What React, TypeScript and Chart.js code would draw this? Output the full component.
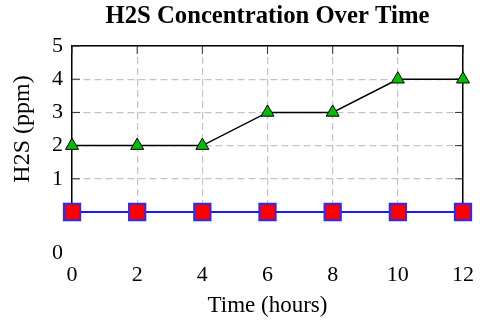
import React, { useEffect, useRef } from "react";
import { Chart, registerables } from "chart.js";

Chart.register(...registerables);

const hours = [0, 2, 4, 6, 8, 10, 12];
const h2sMain = [2, 2, 2, 3, 3, 4, 4];
const h2sBaseline = [0, 0, 0, 0, 0, 0, 0];
const yTicks = [0, 1, 2, 3, 4, 5];
const titleText = "H2S Concentration Over Time";
const xTitle = "Time (hours)";
const yTitle = "H2S (ppm)";

const FONT = '"Liberation Serif", "Times New Roman", serif';

const zeroLabelPlugin = {
  id: "zeroLabel",
  afterDraw(chart: any) {
    const ys = chart.scales.y;
    const ctx = chart.ctx;
    ctx.save();
    ctx.font = `22px ${FONT}`;
    ctx.fillStyle = "#000";
    ctx.textAlign = "right";
    ctx.textBaseline = "middle";
    ctx.fillText(String(yTicks[0]), ys.right - 9, ys.getPixelForValue(yTicks[0]) + 41);
    ctx.restore();
  },
};

const innerTicksPlugin = {
  id: "innerTicks",
  beforeDatasetsDraw(chart: any) {
    const { ctx, chartArea: a, scales } = chart;
    const len = 8;
    ctx.save();
    ctx.strokeStyle = "#333";
    ctx.lineWidth = 1;
    ctx.beginPath();
    for (const h of hours) {
      const x = scales.x.getPixelForValue(h);
      ctx.moveTo(x, a.top);
      ctx.lineTo(x, a.top + len);
      ctx.moveTo(x, a.bottom);
      ctx.lineTo(x, a.bottom - len);
    }
    for (const v of yTicks) {
      const y = scales.y.getPixelForValue(v);
      ctx.moveTo(a.left, y);
      ctx.lineTo(a.left + len, y);
      ctx.moveTo(a.right, y);
      ctx.lineTo(a.right - len, y);
    }
    ctx.stroke();
    ctx.restore();
  },
};

export default function App() {
  const ref = useRef<HTMLCanvasElement | null>(null);
  useEffect(() => {
    document.body.style.margin = "0";
    if (!ref.current) return;
    const chart = new Chart(ref.current, {
      type: "line",
      data: {
        datasets: [
          {
            label: "main",
            data: hours.map((h, i) => ({ x: h, y: h2sMain[i] })),
            borderColor: "#000",
            borderWidth: 1.5,
            pointStyle: "triangle",
            pointRadius: 7.5,
            pointBackgroundColor: "#00bf00",
            pointBorderColor: "#000",
            pointBorderWidth: 1,
            clip: false,
          } as any,
          {
            label: "baseline",
            data: hours.map((h, i) => ({ x: h, y: h2sBaseline[i] })),
            borderColor: "#1a1aff",
            borderWidth: 2,
            pointStyle: "rect",
            pointRadius: 11.5,
            pointBackgroundColor: "#ff0000",
            pointBorderColor: "#2a2aff",
            pointBorderWidth: 2,
            clip: false,
          } as any,
        ],
      },
      options: {
        responsive: false,
        animation: false,
        layout: { padding: { left: 8, right: 17, top: 0, bottom: 1.2 } },
        plugins: {
          legend: { display: false },
          tooltip: { enabled: false },
          title: {
            display: true,
            text: titleText,
            fullSize: false,
            color: "#000",
            font: { family: FONT, size: 24.7, weight: "bold" },
            padding: { top: 2, bottom: 14.4 },
          } as any,
        },
        scales: {
          x: {
            type: "linear",
            min: hours[0],
            max: hours[hours.length - 1],
            ticks: {
              stepSize: 2,
              color: "#000",
              font: { family: FONT, size: 22, lineHeight: "126px" },
              padding: 0,
              maxRotation: 0,
              autoSkip: false,
            },
            grid: { color: "#c4c4c4", lineWidth: 1.2, drawTicks: false },
            border: { display: true, color: "#000", width: 1.5, dash: [7, 4] },
            title: {
              display: true,
              text: xTitle,
              color: "#000",
              font: { family: FONT, size: 23 },
              padding: { top: -45.8, bottom: 0 },
            },
          },
          x2: {
            type: "linear",
            position: "top",
            display: true,
            min: hours[0],
            max: hours[hours.length - 1],
            ticks: { display: false },
            grid: { drawOnChartArea: false, drawTicks: false },
            border: { display: true, color: "#000", width: 1.5 },
          },
          y: {
            type: "linear",
            min: yTicks[0],
            max: yTicks[yTicks.length - 1],
            afterBuildTicks: (axis: any) => {
              axis.ticks = yTicks.map((v) => ({ value: v }));
            },
            ticks: {
              color: "#000",
              font: { family: FONT, size: 22 },
              padding: 9,
              autoSkip: false,
              callback: (v: any) => (v === yTicks[0] ? "" : String(v)),
            },
            grid: { color: "#c4c4c4", lineWidth: 1.2, drawTicks: false },
            border: { display: true, color: "#000", width: 1.5, dash: [7, 4] },
            title: {
              display: true,
              text: yTitle,
              color: "#000",
              font: { family: FONT, size: 24 },
              padding: { top: 0.6, bottom: 5.6 },
            },
          },
          y2: {
            type: "linear",
            position: "right",
            display: true,
            min: yTicks[0],
            max: yTicks[yTicks.length - 1],
            ticks: { display: false },
            grid: { drawOnChartArea: false, drawTicks: false },
            border: { display: true, color: "#000", width: 1.5 },
          },
        },
      } as any,
      plugins: [zeroLabelPlugin, innerTicksPlugin],
    });
    return () => chart.destroy();
  }, []);
  return (
    <div style={{ width: 480, height: 321 }}>
      <canvas ref={ref} width={480} height={321} />
    </div>
  );
}
